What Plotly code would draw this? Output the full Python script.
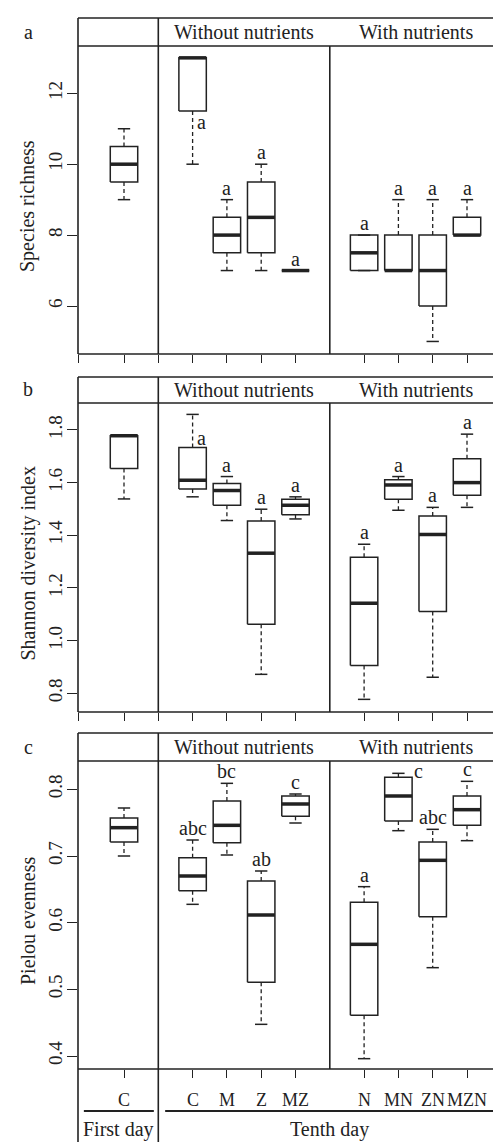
import plotly.graph_objects as go

# ---- data -------------------------------------------------------------
groups = ["C", "C", "M", "Z", "MZ", "N", "MN", "ZN", "MZN"]
day_labels = ["First day", "Tenth day"]
header_labels = ["Without nutrients", "With nutrients"]
panel_letters = ["a", "b", "c"]
y_titles = ["Species richness", "Shannon diversity index", "Pielou evenness"]

# species richness
rich_low = [9, 10, 7, 7, 7, 7, 7, 5, 8]
rich_q1 = [9.5, 11.5, 7.5, 7.5, 7, 7, 7, 6, 8]
rich_med = [10, 13, 8, 8.5, 7, 7.5, 7, 7, 8]
rich_q3 = [10.5, 13, 8.5, 9.5, 7, 8, 8, 8, 8.5]
rich_high = [11, 13, 9, 10, 7, 8, 9, 9, 9]
rich_letters = ["", "a", "a", "a", "a", "a", "a", "a", "a"]

# Shannon diversity index
shan_low = [1.538, 1.546, 1.456, 0.872, 1.462, 0.777, 1.495, 0.861, 1.506]
shan_q1 = [1.654, 1.576, 1.514, 1.062, 1.478, 0.906, 1.537, 1.111, 1.552]
shan_med = [1.778, 1.609, 1.570, 1.332, 1.514, 1.142, 1.591, 1.403, 1.600]
shan_q3 = [1.778, 1.733, 1.597, 1.454, 1.537, 1.317, 1.611, 1.473, 1.691]
shan_high = [1.778, 1.859, 1.623, 1.499, 1.546, 1.366, 1.623, 1.506, 1.784]
shan_letters = ["", "a", "a", "a", "a", "a", "a", "a", "a"]

# Pielou evenness
piel_low = [0.700, 0.6275, 0.7015, 0.4475, 0.7495, 0.396, 0.738, 0.5325, 0.723]
piel_q1 = [0.721, 0.648, 0.720, 0.5105, 0.7595, 0.461, 0.7525, 0.609, 0.746]
piel_med = [0.7425, 0.670, 0.746, 0.6115, 0.778, 0.5675, 0.790, 0.6935, 0.7695]
piel_q3 = [0.757, 0.6975, 0.7825, 0.6625, 0.790, 0.6305, 0.818, 0.721, 0.790]
piel_high = [0.772, 0.724, 0.809, 0.6775, 0.793, 0.654, 0.824, 0.740, 0.812]
piel_letters = ["", "abc", "bc", "ab", "c", "a", "c", "abc", "c"]

rich_ticks = [6, 8, 10, 12]
shan_ticks = [0.8, 1.0, 1.2, 1.4, 1.6, 1.8]
piel_ticks = [0.4, 0.5, 0.6, 0.7, 0.8]

# ---- layout constants -------------------------------------------------
W, H = 493, 1142
LEFT = 78
FONT = "'Liberation Serif', 'Times New Roman', Times, serif"
INK = "#222222"
pos = [0, 2, 3, 4, 5, 7, 8, 9, 10]        # slot of each group on the x axis
XRANGE = [-1.341, 10.758]
HALF_BOX = 0.4
HALF_CAP = 0.18

panels = [
    dict(low=rich_low, q1=rich_q1, med=rich_med, q3=rich_q3, high=rich_high,
         letters=rich_letters, ticks=rich_ticks, fmt="{:g}",
         top=18, head=46, bottom=354, yrange=[4.646, 14.124],
         side={1: (0.245, 11.19)}),
    dict(low=shan_low, q1=shan_q1, med=shan_med, q3=shan_q3, high=shan_high,
         letters=shan_letters, ticks=shan_ticks, fmt="{:.1f}",
         top=377, head=403, bottom=712, yrange=[0.729, 2.001],
         side={1: (0.245, 1.77)}),
    dict(low=piel_low, q1=piel_q1, med=piel_med, q3=piel_q3, high=piel_high,
         letters=piel_letters, ticks=piel_ticks, fmt="{:.1f}",
         top=733, head=761, bottom=1069, yrange=[0.3805, 0.8845],
         side={6: (0.6, 0.8275)}),
]


def py(px):
    """pixel row -> paper fraction"""
    return 1 - px / H


def txt_font(size=20):
    return dict(family=FONT, size=size, color=INK)


fig = go.Figure()
shapes = []
annotations = []

for i, p in enumerate(panels):
    xa = "x" if i == 0 else f"x{i + 1}"
    ya = "y" if i == 0 else f"y{i + 1}"

    bx, by, mx, my, wx, wy, cx, cy = [], [], [], [], [], [], [], []
    for k, xc in enumerate(pos):
        l, r = xc - HALF_BOX, xc + HALF_BOX
        bx += [l, r, r, l, l, None]
        by += [p["q1"][k], p["q1"][k], p["q3"][k], p["q3"][k], p["q1"][k], None]
        mx += [l, r, None]
        my += [p["med"][k], p["med"][k], None]
        if p["high"][k] > p["q3"][k]:
            wx += [xc, xc, None]
            wy += [p["q3"][k], p["high"][k], None]
        if p["low"][k] < p["q1"][k]:
            wx += [xc, xc, None]
            wy += [p["q1"][k], p["low"][k], None]
        for v in (p["high"][k], p["low"][k]):
            cx += [xc - HALF_CAP, xc + HALF_CAP, None]
            cy += [v, v, None]

    common = dict(xaxis=xa, yaxis=ya, mode="lines", showlegend=False, hoverinfo="skip")
    fig.add_trace(go.Scatter(x=wx, y=wy, line=dict(color=INK, width=1.3, dash="4px,3px"), **common))
    fig.add_trace(go.Scatter(x=cx, y=cy, line=dict(color=INK, width=1.5), **common))
    fig.add_trace(go.Scatter(x=bx, y=by, line=dict(color=INK, width=1.5), **common))
    fig.add_trace(go.Scatter(x=mx, y=my, line=dict(color=INK, width=3.5), **common))

    # significance letters
    for k, txt in enumerate(p["letters"]):
        if not txt:
            continue
        if k in p["side"]:
            dx, yv = p["side"][k]
            annotations.append(dict(x=pos[k] + dx, y=yv, xref=xa, yref=ya, text=txt,
                                    showarrow=False, xanchor="center", yanchor="middle",
                                    font=txt_font()))
        else:
            annotations.append(dict(x=pos[k], y=p["high"][k], xref=xa, yref=ya, text=txt,
                                    showarrow=False, xanchor="center", yanchor="bottom",
                                    yshift=-1, font=txt_font()))

    # axes
    domain = [py(p["bottom"]), py(p["top"])]
    xticks = pos if i == 2 else [XRANGE[0] + 0.003, 1] + pos
    fig.layout[("xaxis" if i == 0 else f"xaxis{i + 1}")] = dict(
        domain=[LEFT / W, 1], range=XRANGE, anchor=ya, showgrid=False, zeroline=False,
        showline=False, ticks="outside", ticklen=8, tickwidth=1.3, tickcolor=INK,
        tickvals=xticks, showticklabels=False, fixedrange=True)
    fig.layout[("yaxis" if i == 0 else f"yaxis{i + 1}")] = dict(
        domain=domain, range=p["yrange"], anchor=xa, showgrid=False, zeroline=False,
        showline=False, ticks="outside", ticklen=10, tickwidth=1.3, tickcolor=INK,
        tickvals=p["ticks"], ticktext=[p["fmt"].format(t) for t in p["ticks"]],
        tickangle=-90, ticklabelstandoff=-3, tickfont=txt_font(19), fixedrange=True)

    # frame: top, header band, bottom, left edge and group dividers
    lw = dict(color=INK, width=1.6)
    for yy in (p["top"], p["head"], p["bottom"]):
        shapes.append(dict(type="line", xref="paper", yref="paper", x0=LEFT / W, x1=1,
                           y0=py(yy), y1=py(yy), line=lw))
    ylow = H if i == 2 else p["bottom"]
    shapes.append(dict(type="line", xref="paper", yref="paper", x0=LEFT / W, x1=LEFT / W,
                       y0=py(ylow), y1=py(p["top"]), line=lw))
    shapes.append(dict(type="line", xref=xa, yref="paper", x0=1, x1=1,
                       y0=py(ylow), y1=py(p["top"]), line=lw))
    shapes.append(dict(type="line", xref=xa, yref="paper", x0=6, x1=6,
                       y0=py(p["bottom"]), y1=py(p["head"]), line=lw))

    # header texts and panel letter
    hy = py((p["top"] + p["head"]) / 2)
    annotations.append(dict(x=3.5, y=hy, xref=xa, yref="paper", text=header_labels[0],
                            showarrow=False, xanchor="center", yanchor="middle",
                            font=txt_font()))
    annotations.append(dict(x=8.5, y=hy, xref=xa, yref="paper", text=header_labels[1],
                            showarrow=False, xanchor="center", yanchor="middle",
                            font=txt_font()))
    annotations.append(dict(x=28 / W, y=py(p["head"] - 14), xref="paper", yref="paper",
                            text=panel_letters[i], showarrow=False, xanchor="center",
                            yanchor="middle", font=txt_font()))
    # y axis title
    annotations.append(dict(x=28 / W, y=py((p["head"] + p["bottom"]) / 2 + 6), xref="paper",
                            yref="paper", text=y_titles[i], textangle=-90, showarrow=False,
                            xanchor="center", yanchor="middle", font=txt_font()))

# group labels and day labels below the last panel
for k, g in enumerate(groups):
    annotations.append(dict(x=pos[k], y=py(1100), xref="x3", yref="paper", text=g,
                            showarrow=False, xanchor="center", yanchor="middle",
                            font=txt_font(18)))
for x0, x1, txt, xc in ((-1.17, 0.87, day_labels[0], -0.15), (1.2, 11.5, day_labels[1], 6)):
    shapes.append(dict(type="line", xref="x3", yref="paper", x0=x0, x1=x1,
                       y0=py(1111), y1=py(1111), line=dict(color=INK, width=1.8)))
    annotations.append(dict(x=xc, y=py(1129), xref="x3", yref="paper", text=txt,
                            showarrow=False, xanchor="center", yanchor="middle",
                            font=txt_font()))

fig.update_layout(width=W, height=H, margin=dict(l=0, r=0, t=0, b=0),
                  paper_bgcolor="white", plot_bgcolor="white",
                  shapes=shapes, annotations=annotations)

fig.write_html("out.html")
